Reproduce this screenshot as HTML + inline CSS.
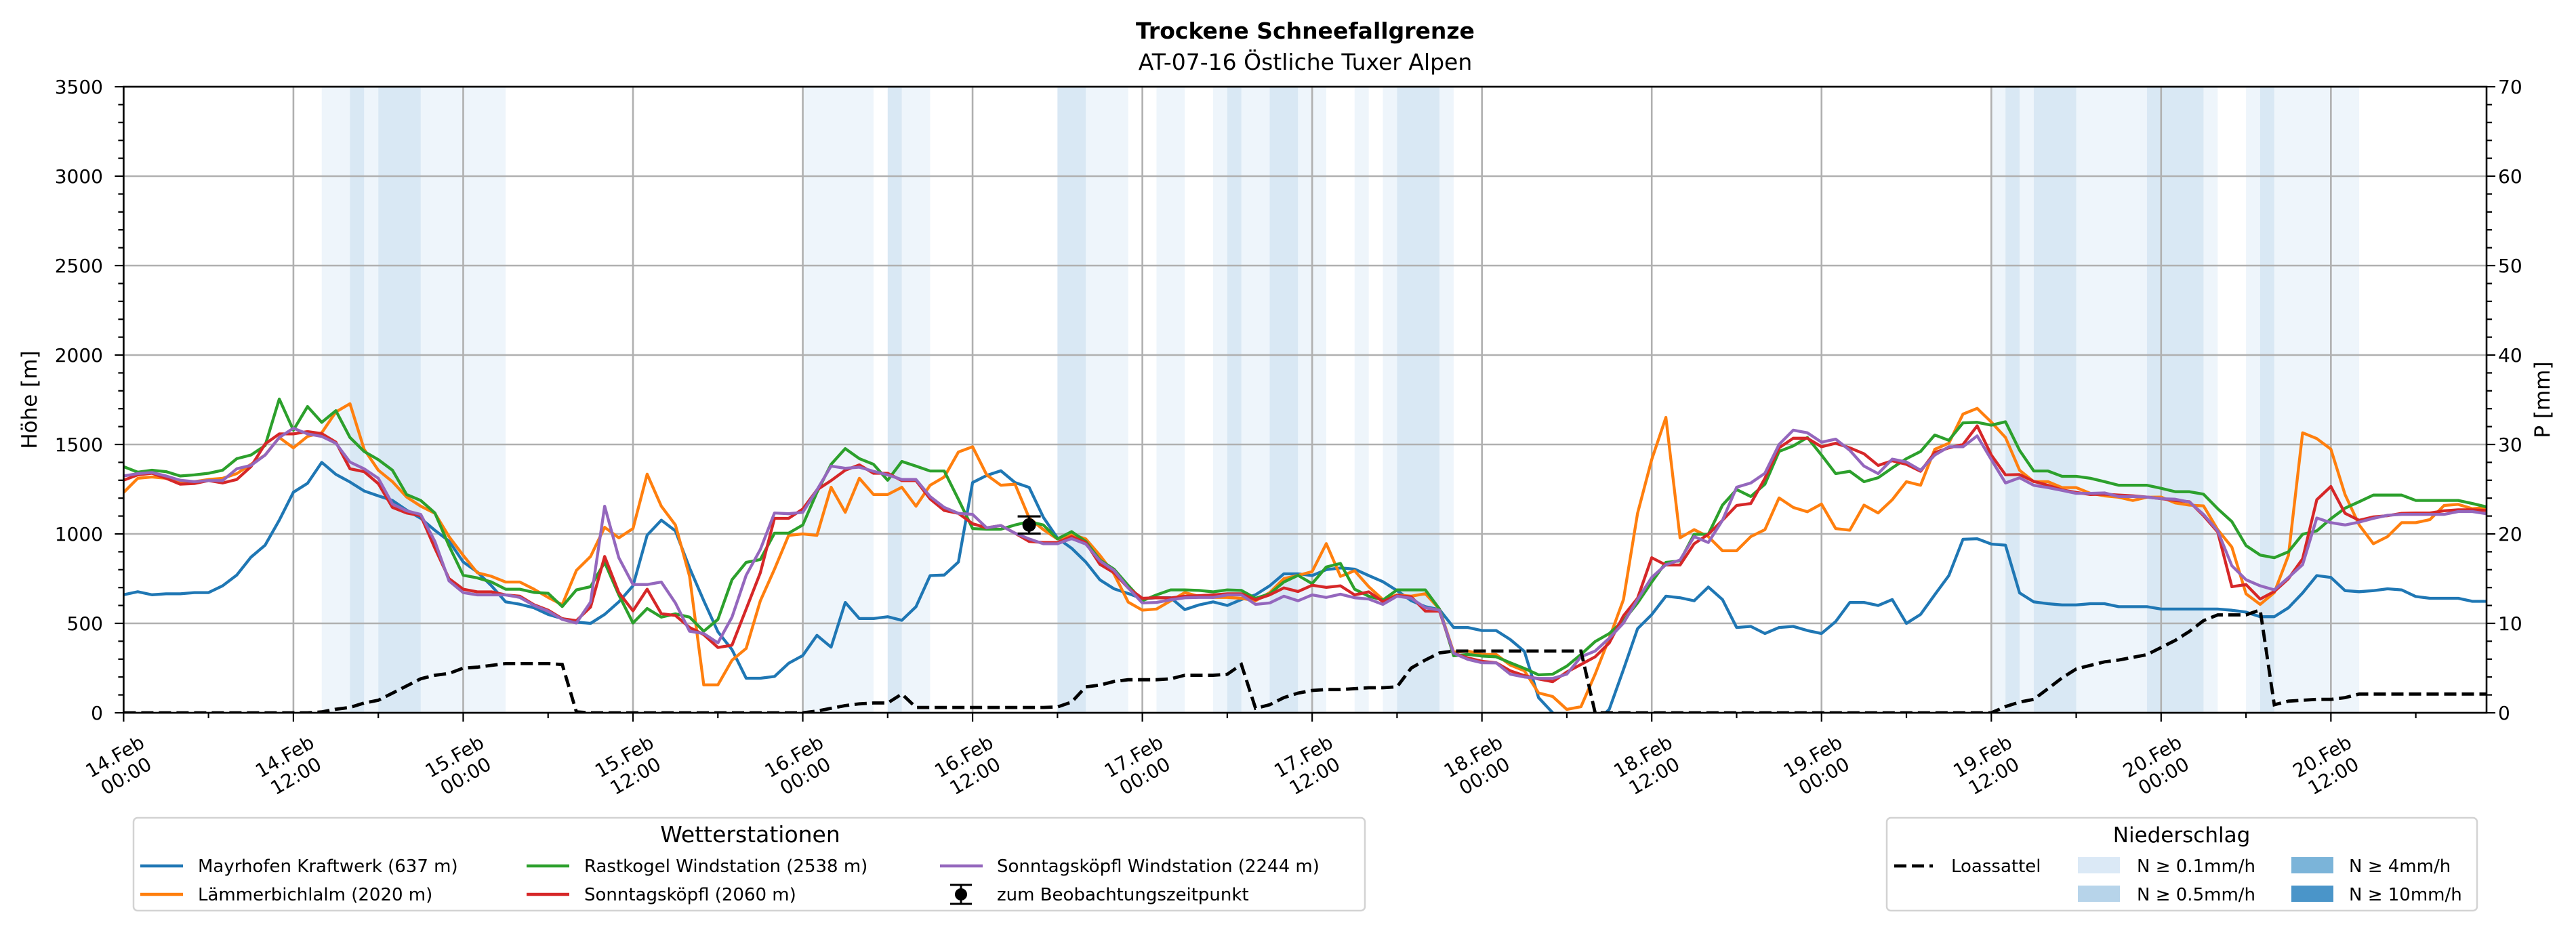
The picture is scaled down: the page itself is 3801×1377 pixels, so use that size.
<!DOCTYPE html>
<html><head><meta charset="utf-8"><title>Trockene Schneefallgrenze</title>
<style>
html,body{margin:0;padding:0;background:#fff;}
svg{display:block;font-family:"DejaVu Sans","Liberation Sans",sans-serif;}
</style></head>
<body>
<svg id="chart" width="3801" height="1377" viewBox="0 0 3801 1377" xmlns="http://www.w3.org/2000/svg">
  <defs><clipPath id="plotclip"><rect x="182.4" y="128" width="3486.6" height="924"/></clipPath></defs>
  <rect width="3801" height="1377" fill="#fff"/>
  <text x="1926" y="57" text-anchor="middle" font-size="33" font-weight="bold">Trockene Schneefallgrenze</text>
  <text x="1926" y="103" text-anchor="middle" font-size="33">AT-07-16 Östliche Tuxer Alpen</text>
  <g id="bands" clip-path="url(#plotclip)"></g>
  <g id="grid"></g>
  <g id="series" clip-path="url(#plotclip)"></g>
  <g id="axes"></g>
  <text transform="translate(54,590) rotate(-90)" text-anchor="middle" font-size="31">Höhe [m]</text>
  <text transform="translate(3762,590) rotate(-90)" text-anchor="middle" font-size="31">P [mm]</text>

  <g>
    <rect x="197" y="1207" width="1817" height="137" rx="6" fill="#fff" stroke="#d3d3d3" stroke-width="2.5"/>
    <text x="1107" y="1243" text-anchor="middle" font-size="33">Wetterstationen</text>
    <g font-size="26">
      <line x1="207" y1="1278" x2="270" y2="1278" stroke="#1f77b4" stroke-width="4.5"/>
      <text x="292" y="1287">Mayrhofen Kraftwerk (637 m)</text>
      <line x1="207" y1="1320" x2="270" y2="1320" stroke="#ff7f0e" stroke-width="4.5"/>
      <text x="292" y="1329">Lämmerbichlalm (2020 m)</text>
      <line x1="777" y1="1278" x2="840" y2="1278" stroke="#2ca02c" stroke-width="4.5"/>
      <text x="862" y="1287">Rastkogel Windstation (2538 m)</text>
      <line x1="777" y1="1320" x2="840" y2="1320" stroke="#d62728" stroke-width="4.5"/>
      <text x="862" y="1329">Sonntagsköpfl (2060 m)</text>
      <line x1="1387" y1="1278" x2="1450" y2="1278" stroke="#9467bd" stroke-width="4.5"/>
      <text x="1471" y="1287">Sonntagsköpfl Windstation (2244 m)</text>
      <g stroke="#000" stroke-width="3">
        <line x1="1418" y1="1306" x2="1418" y2="1334"/><line x1="1402" y1="1306" x2="1434" y2="1306"/><line x1="1402" y1="1334" x2="1434" y2="1334"/>
        <circle cx="1418" cy="1320" r="9" fill="#000" stroke="none"/>
      </g>
      <text x="1471" y="1329">zum Beobachtungszeitpunkt</text>
    </g>
  </g>

  <g>
    <rect x="2784" y="1207" width="871" height="137" rx="6" fill="#fff" stroke="#d3d3d3" stroke-width="2.5"/>
    <text x="3219" y="1243" text-anchor="middle" font-size="31">Niederschlag</text>
    <g font-size="26">
      <line x1="2795" y1="1278" x2="2852" y2="1278" stroke="#000" stroke-width="4.8" stroke-dasharray="18 8"/>
      <text x="2879" y="1287">Loassattel</text>
      <rect x="3066" y="1265" width="62" height="24" fill="#dbe9f6"/>
      <text x="3153" y="1287">N ≥ 0.1mm/h</text>
      <rect x="3066" y="1307" width="62" height="24" fill="#b7d4ea"/>
      <text x="3153" y="1329">N ≥ 0.5mm/h</text>
      <rect x="3381" y="1265" width="62" height="24" fill="#7bb4d9"/>
      <text x="3466" y="1287">N ≥ 4mm/h</text>
      <rect x="3381" y="1307" width="62" height="24" fill="#4a95c9"/>
      <text x="3466" y="1329">N ≥ 10mm/h</text>
    </g>
  </g>
</svg>
<script>
const mayrhofen = [660,677,660,665,665,672,672,710,770,870,937,1077,
1233,1283,1400,1333,1290,1240,1213,1187,1133,1087,1020,960,
843,787,710,620,607,587,550,527,507,500,550,620,
710,993,1077,1017,810,627,453,353,193,193,203,277,
320,433,367,617,527,527,537,517,593,767,770,843,
1287,1327,1353,1287,1260,1093,977,920,843,743,693,667,
637,643,643,577,603,620,600,633,660,710,777,777,
767,800,810,803,767,733,683,627,593,577,477,477,
460,460,410,343,85,0,-80,-120,-60,20,242,470,
549,652,643,626,703,633,477,483,443,477,483,460,
443,510,617,617,600,633,500,550,660,767,970,973,
943,937,670,620,610,603,603,610,610,593,593,593,
580,580,580,580,580,573,563,537,537,587,670,767,
757,683,677,683,693,687,650,640,640,640,623,623];
const laemmerbichlalm = [1232,1311,1318,1311,1285,1292,1304,1311,1337,1389,1441,1539,
1481,1545,1565,1682,1728,1473,1356,1292,1206,1155,1115,985,
880,783,763,731,731,691,645,604,796,874,1037,978,
1030,1334,1155,1050,763,156,156,294,360,626,803,992,
1000,992,1261,1121,1311,1220,1220,1261,1155,1272,1318,1458,
1487,1330,1272,1278,1089,1024,972,998,972,880,776,619,
574,580,626,672,651,645,645,640,626,672,750,768,
789,946,763,794,705,633,659,652,666,580,339,345,
326,326,267,235,111,91,19,34,216,417,633,1115,
1416,1651,978,1024,985,906,906,985,1024,1201,1148,1124,
1167,1030,1021,1161,1117,1191,1292,1272,1473,1507,1670,1702,
1625,1539,1356,1292,1292,1259,1259,1227,1213,1205,1187,1205,
1206,1173,1161,1157,1024,926,665,606,672,880,1565,1533,
1474,1220,1050,945,985,1063,1063,1080,1159,1165,1141,1148];
const rastkogel = [1376,1345,1356,1348,1324,1330,1339,1356,1421,1441,1494,1754,
1580,1712,1624,1689,1539,1461,1415,1356,1220,1187,1117,933,
769,754,731,691,691,673,668,594,687,705,841,659,
502,583,535,553,535,456,522,744,841,857,1004,1004,
1050,1232,1389,1477,1421,1389,1300,1405,1379,1352,1352,1193,
1030,1026,1026,1050,1069,1050,972,1013,958,854,803,712,
626,659,687,687,684,676,687,684,640,665,731,768,
722,815,835,691,652,630,687,687,687,580,319,326,
317,313,280,248,212,216,261,326,398,443,515,614,
731,841,849,998,998,1161,1248,1209,1278,1461,1492,1539,
1441,1337,1350,1292,1314,1369,1421,1461,1553,1523,1621,1624,
1608,1627,1467,1352,1352,1322,1322,1311,1292,1272,1272,1272,
1255,1236,1236,1222,1141,1069,935,882,867,900,998,1017,
1085,1144,1180,1217,1217,1217,1187,1187,1187,1187,1170,1151];
const sonntagskoepfl = [1300,1330,1339,1311,1278,1282,1298,1285,1304,1376,1503,1559,
1559,1572,1561,1513,1364,1348,1281,1148,1117,1102,920,750,
691,676,676,659,652,604,574,526,515,591,874,672,
570,691,554,544,477,437,365,378,580,783,1087,1087,
1139,1246,1298,1356,1386,1339,1339,1298,1298,1196,1131,1115,
1057,1034,1047,1004,958,952,952,985,952,830,783,698,
640,643,642,652,655,659,665,665,632,659,698,678,
713,701,710,659,676,622,656,648,568,568,333,307,
288,280,235,208,189,174,228,270,313,391,542,640,
867,826,826,945,998,1076,1159,1170,1311,1481,1535,1535,
1487,1507,1481,1448,1383,1409,1389,1350,1455,1481,1500,1604,
1441,1330,1332,1294,1272,1246,1232,1220,1222,1217,1213,1206,
1197,1187,1180,1102,1011,705,717,636,678,750,861,1191,
1265,1115,1076,1095,1102,1115,1117,1117,1129,1135,1135,1131];
const sonntagskoepflWind = [1324,1337,1343,1324,1300,1292,1298,1298,1364,1383,1441,1539,
1591,1559,1545,1507,1402,1364,1311,1167,1129,1109,958,737,
672,659,659,659,645,600,568,522,502,619,1155,867,
717,717,731,614,456,443,391,535,769,913,1117,1113,
1121,1246,1379,1367,1373,1350,1330,1304,1304,1209,1148,1115,
1109,1034,1047,1004,972,945,945,974,943,849,796,698,
614,617,632,643,645,645,659,659,606,614,652,626,
659,645,663,643,636,606,652,640,587,574,333,299,
280,279,216,200,192,192,216,313,345,417,502,633,
757,828,854,985,952,1076,1261,1285,1339,1500,1580,1565,
1513,1530,1467,1379,1337,1418,1402,1356,1441,1487,1487,1548,
1415,1285,1314,1272,1259,1243,1227,1227,1229,1209,1209,1206,
1197,1194,1178,1109,1017,822,744,710,687,756,828,1089,
1063,1050,1066,1087,1104,1109,1109,1109,1109,1125,1125,1113];
const loassattel = [0,0,0,0,0,0,0,0,0,0,0,0,
0,0,0.1,0.4,0.6,1.1,1.4,2.2,3.0,3.8,4.2,4.4,
5.0,5.1,5.3,5.5,5.5,5.5,5.5,5.4,0.1,0,0,0,
0,0,0,0,0,0,0,0,0,0,0,0,
0,0.2,0.5,0.8,1.0,1.1,1.1,2.1,0.6,0.6,0.6,0.6,
0.6,0.6,0.6,0.6,0.6,0.6,0.65,1.2,2.9,3.1,3.5,3.7,
3.7,3.7,3.8,4.2,4.2,4.2,4.3,5.4,0.5,0.9,1.7,2.2,
2.5,2.6,2.6,2.7,2.8,2.8,2.9,5.0,5.9,6.7,6.9,6.9,
6.9,6.9,6.9,6.9,6.9,6.9,6.9,6.9,0,0,0,0,
0,0,0,0,0,0,0,0,0,0,0,0,
0,0,0,0,0,0,0,0,0,0,0,0,
0,0.7,1.2,1.5,2.7,3.9,4.9,5.3,5.7,5.9,6.2,6.5,
7.3,8.1,9.1,10.3,10.95,10.95,10.95,11.5,0.9,1.3,1.4,1.5,
1.5,1.7,2.1,2.1,2.1,2.1,2.1,2.1,2.1,2.1,2.1,2.1];
const lightBands = [[14,16],[17,18],[21,27],[48,53],[55,57],[68,71],[73,75],[77,78],[79,81],[83,85],[87,88],[89,90],[93,94],[132,133],[134,135],[138,143],[147,148],[150,151],[152,158]];
const mediumBands = [[16,17],[18,21],[54,55],[66,68],[78,79],[81,83],[90,93],[133,134],[135,138],[143,147],[151,152]];
const observationHour = [64];
const observationValue = [1050];
const observationError = [48];
const xTickHours = [0,12,24,36,48,60,72,84,96,108,120,132,144,156];
const xTickDates = ["14.Feb","14.Feb","15.Feb","15.Feb","16.Feb","16.Feb","17.Feb","17.Feb","18.Feb","18.Feb","19.Feb","19.Feb","20.Feb","20.Feb"];
const xTickTimes = ["00:00","12:00","00:00","12:00","00:00","12:00","00:00","12:00","00:00","12:00","00:00","12:00","00:00","12:00"];
const yLeftTicks = [0,500,1000,1500,2000,2500,3000,3500];
const yRightTicks = [0,10,20,30,40,50,60,70];

const NS = "http://www.w3.org/2000/svg";
const PL = 182.4, PR = 3669, PT = 128, PB = 1052, HMAX = 167;
const xS = h => PL + h * (PR - PL) / HMAX;
const yL = v => PB - v * (PB - PT) / 3500;
const yR = p => PB - p * (PB - PT) / 70;
function mk(tag, attrs, parent) {
  const e = document.createElementNS(NS, tag);
  for (const k in attrs) e.setAttribute(k, attrs[k]);
  parent.appendChild(e);
  return e;
}
const bands = document.getElementById('bands');
const grid = document.getElementById('grid');
const series = document.getElementById('series');
const axes = document.getElementById('axes');

lightBands.forEach((b, i) => {
  const r = mk('rect', {x: xS(b[0]), y: PT, width: xS(b[1]) - xS(b[0]), height: PB - PT, fill: '#eef5fb'}, bands);
  
  
});
mediumBands.forEach((b, i) => {
  const r = mk('rect', {x: xS(b[0]), y: PT, width: xS(b[1]) - xS(b[0]), height: PB - PT, fill: '#d9e8f4'}, bands);
  
  
});

xTickHours.forEach(h => {
  const l = mk('line', {x1: xS(h), x2: xS(h), y1: PT, y2: PB, stroke: '#b0b0b0', 'stroke-width': 2.6}, grid);
  
  
});
yLeftTicks.forEach(v => {
  const l = mk('line', {x1: PL, x2: PR, y1: yL(v), y2: yL(v), stroke: '#b0b0b0', 'stroke-width': 2.6}, grid);
  
  
});

function linePath(vals, yf) {
  return vals.map((v, i) => (i ? 'L' : 'M') + xS(i).toFixed(1) + ' ' + yf(v).toFixed(1)).join(' ');
}
const defs = [
  [mayrhofen, '#1f77b4', 'line-mayrhofen'],
  [laemmerbichlalm, '#ff7f0e', 'line-laemmerbichlalm'],
  [rastkogel, '#2ca02c', 'line-rastkogel'],
  [sonntagskoepfl, '#d62728', 'line-sonntagskoepfl'],
  [sonntagskoepflWind, '#9467bd', 'line-sonntagskoepfl-wind']
];
defs.forEach(d => {
  const p = mk('path', {d: linePath(d[0], yL), fill: 'none', stroke: d[1], 'stroke-width': 4.3, 'stroke-linejoin': 'round'}, series);
  
  
});
const lp = mk('path', {d: linePath(loassattel, yR), fill: 'none', stroke: '#000', 'stroke-width': 4.8, 'stroke-dasharray': '18 8'}, series);



observationHour.forEach((h, i) => {
  const g = mk('g', {stroke: '#000', 'stroke-width': 3.2}, series);
  
  
  const cx = xS(h), v = observationValue[i], e = observationError[i];
  mk('line', {x1: cx, x2: cx, y1: yL(v + e), y2: yL(v - e)}, g);
  mk('line', {x1: cx - 17, x2: cx + 17, y1: yL(v + e), y2: yL(v + e)}, g);
  mk('line', {x1: cx - 17, x2: cx + 17, y1: yL(v - e), y2: yL(v - e)}, g);
  mk('circle', {cx: cx, cy: yL(v), r: 10, fill: '#000', stroke: 'none'}, g);
});

const frame = mk('rect', {x: PL, y: PT, width: PR - PL, height: PB - PT, fill: 'none', stroke: '#000', 'stroke-width': 2.6}, axes);



for (let h = 0; h <= HMAX; h += 6) {
  const major = h % 12 === 0;
  const t = mk('line', {x1: xS(h), x2: xS(h), y1: PB, y2: PB + (major ? 13 : 8), stroke: '#000', 'stroke-width': 2.2}, axes);
  
  
}
xTickHours.forEach((h, i) => {
  const cx = xS(h) - 4, cy = 1132;
  const tx = mk('text', {x: cx, y: cy - 8, 'text-anchor': 'middle', 'font-size': 28, transform: 'rotate(-30 ' + cx + ' ' + cy + ')'}, axes);
  
  
  const s1 = mk('tspan', {x: cx}, tx); s1.textContent = xTickDates[i];
  const s2 = mk('tspan', {x: cx, dy: 33}, tx); s2.textContent = xTickTimes[i];
});
for (let v = 0; v <= 3500; v += 100) {
  const major = v % 500 === 0;
  const t = mk('line', {x1: PL - (major ? 13 : 8), x2: PL, y1: yL(v), y2: yL(v), stroke: '#000', 'stroke-width': 2.2}, axes);
  
  
}
yLeftTicks.forEach(v => {
  const tx = mk('text', {x: 152, y: yL(v) + 10, 'text-anchor': 'end', 'font-size': 28}, axes);
  
  
  tx.textContent = v;
});
for (let p = 0; p <= 70; p += 2) {
  const major = p % 10 === 0;
  const t = mk('line', {x1: PR, x2: PR + (major ? 13 : 8), y1: yR(p), y2: yR(p), stroke: '#000', 'stroke-width': 2.2}, axes);
  
  
}
yRightTicks.forEach(p => {
  const tx = mk('text', {x: 3686, y: yR(p) + 10, 'text-anchor': 'start', 'font-size': 28}, axes);
  
  
  tx.textContent = p;
});
</script>
</body></html>
